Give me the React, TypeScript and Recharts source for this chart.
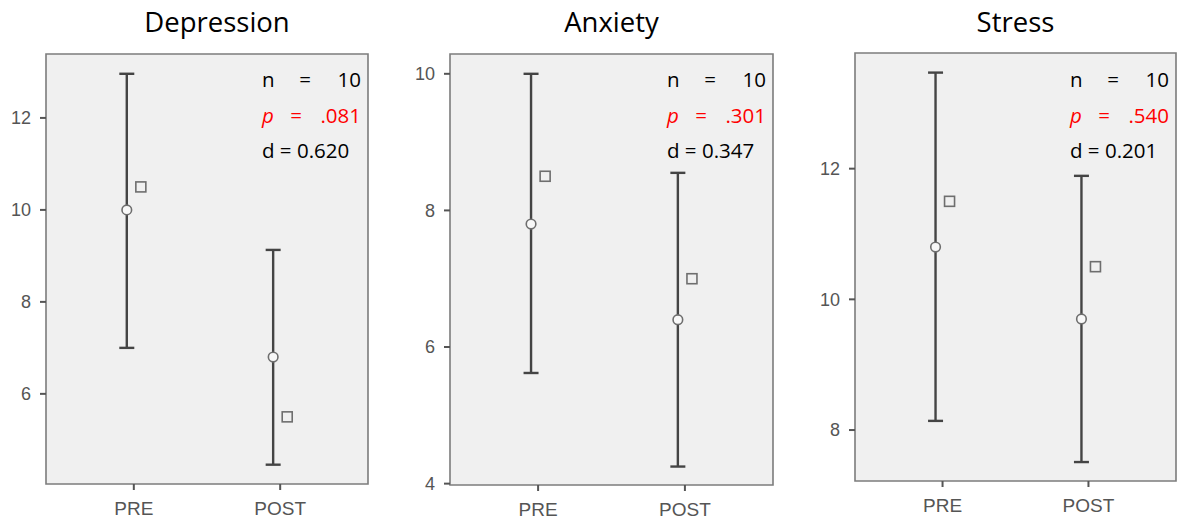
import { ComposedChart, Scatter, XAxis, YAxis, ErrorBar, ReferenceArea } from 'recharts';

const measures = ['Depression', 'Anxiety', 'Stress'];
const phases = ['PRE', 'POST'];

// mean (circle), interval ends and the square marker, per measure [PRE, POST]
const meanValues = [[10.0, 6.8], [7.8, 6.4], [10.8, 9.7]];
const lowerValues = [[7.0, 4.46], [5.62, 4.25], [8.14, 7.51]];
const upperValues = [[12.96, 9.13], [10.0, 8.55], [13.47, 11.89]];
const squareValues = [[10.5, 5.5], [8.5, 7.0], [11.5, 10.5]];

const yTicks = [[6, 8, 10, 12], [4, 6, 8, 10], [8, 10, 12]];
const yDomains = [[4.04, 13.39], [3.98, 10.29], [7.22, 13.77]];

const nValues = ['10', '10', '10'];
const pValues = ['.081', '.301', '.540'];
const dValues = ['0.620', '0.347', '0.201'];

// plot boxes on the page
const boxes = [
  { left: 46, top: 54, right: 368, bottom: 484 },
  { left: 450, top: 54, right: 773, bottom: 485 },
  { left: 855, top: 53, right: 1176, bottom: 481 },
];

const Y_AXIS_W = 44;
const X_AXIS_H = 30;
const SHIFT = 0.048; // half the gap between the two markers, in category steps

const tickStyle = { fill: '#555', fontSize: 18, fontFamily: 'Liberation Sans, Arial, sans-serif' };

function Panel({ i }: { i: number }) {
  const box = boxes[i];
  const left = box.left - Y_AXIS_W;
  const width = box.right + 4 - left;
  const rows = phases.map((ph, j) => ({
    x: j,
    y: meanValues[i][j],
    err: [meanValues[i][j] - lowerValues[i][j], upperValues[i][j] - meanValues[i][j]],
  }));
  const squares = phases.map((ph, j) => ({ x: j, y: squareValues[i][j] }));

  return (
    <div style={{ position: 'absolute', left, top: 0 }}>
      <ComposedChart
        width={width}
        height={522}
        margin={{ top: box.top, right: 4, left: 0, bottom: 522 - box.bottom - X_AXIS_H }}
      >
        <XAxis
          xAxisId="cat"
          dataKey="x"
          type="number"
          domain={[-0.6, 1.6]}
          allowDataOverflow
          ticks={[0, 1]}
          tickFormatter={(v) => phases[v]}
          axisLine={false}
          tickSize={6}
          tickMargin={12}
          tickLine={{ stroke: '#555', strokeWidth: 2 }}
          tick={{ ...tickStyle, fontSize: 19 }}
          height={X_AXIS_H}
        />
        <XAxis xAxisId="bar" dataKey="x" type="number" domain={[-0.6 + SHIFT, 1.6 + SHIFT]} allowDataOverflow hide height={0} />
        <XAxis xAxisId="sq" dataKey="x" type="number" domain={[-0.6 - SHIFT, 1.6 - SHIFT]} allowDataOverflow hide height={0} />
        <YAxis
          type="number"
          dataKey="y"
          domain={yDomains[i]}
          allowDataOverflow
          ticks={yTicks[i]}
          width={Y_AXIS_W}
          axisLine={false}
          tickSize={6}
          tickMargin={9}
          tickLine={{ stroke: '#555', strokeWidth: 2 }}
          tick={tickStyle}
        />
        <ReferenceArea
          xAxisId="cat"
          x1={-0.6}
          x2={1.6}
          y1={yDomains[i][0]}
          y2={yDomains[i][1]}
          fill="#f0f0f0"
          fillOpacity={1}
          stroke="#7c7c7c"
          strokeWidth={1.6}
          ifOverflow="visible"
        />
        <Scatter
          xAxisId="bar"
          data={rows}
          isAnimationActive={false}
          shape={(p: any) => (
            <circle cx={p.cx} cy={p.cy} r={4.8} fill="#f8f8f8" stroke="#6e6e6e" strokeWidth={1.6} />
          )}
        >
          <ErrorBar dataKey="err" direction="y" width={7.5} stroke="#444" strokeWidth={2.4} isAnimationActive={false} />
        </Scatter>
        <Scatter
          xAxisId="sq"
          data={squares}
          isAnimationActive={false}
          shape={(p: any) => (
            <rect x={p.cx - 5} y={p.cy - 5} width={10} height={10} fill="#f0f0f0" stroke="#6e6e6e" strokeWidth={1.6} />
          )}
        />
      </ComposedChart>
    </div>
  );
}

function Notes() {
  const font = { fontFamily: 'Open Sans, sans-serif', fontSize: 20.5 };
  return (
    <svg width={1179} height={522} style={{ position: 'absolute', left: 0, top: 0, pointerEvents: 'none' }}>
      {measures.map((m, i) => {
        const box = boxes[i];
        const right = box.right - 7;
        const x0 = right - 99;
        const cx = (box.left + box.right) / 2 + (i === 0 ? 10 : 0);
        return (
          <g key={m}>
            <text x={cx} y={32} textAnchor="middle" fontFamily="Open Sans, sans-serif" fontSize={27.5} fill="#000">
              {m}
            </text>
            <g style={font} fill="#000">
              <text x={x0} y={87}>n</text>
              <text x={x0 + 43} y={87} textAnchor="middle">=</text>
              <text x={right} y={87} textAnchor="end">{nValues[i]}</text>
            </g>
            <g style={font} fill="#ff0000">
              <text x={x0} y={123} fontStyle="italic">p</text>
              <text x={x0 + 34} y={123} textAnchor="middle">=</text>
              <text x={right} y={123} textAnchor="end">{pValues[i]}</text>
            </g>
            <text x={x0} y={158} style={font} fill="#000">
              d = {dValues[i]}
            </text>
          </g>
        );
      })}
    </svg>
  );
}

export default function App() {
  return (
    <div style={{ position: 'absolute', left: 0, top: 0, width: 1179, height: 522, background: '#fff' }}>
      {measures.map((m, i) => (
        <Panel key={m} i={i} />
      ))}
      <Notes />
    </div>
  );
}
